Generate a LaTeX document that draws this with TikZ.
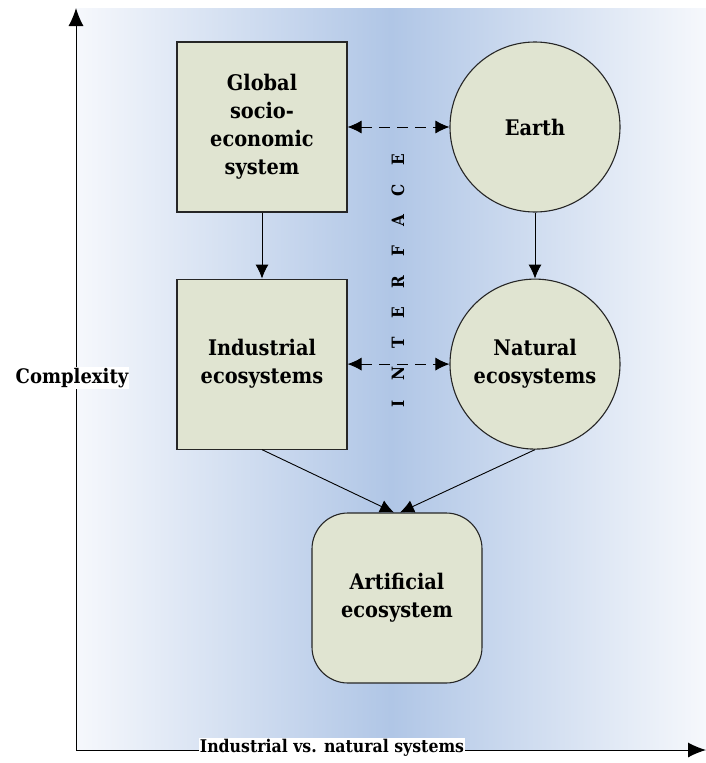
\documentclass[tikz,border=0pt]{standalone}
\usepackage{fontspec}
\setmainfont{DejaVu Serif Condensed}
\usetikzlibrary{arrows.meta, positioning, shapes.geometric}

\definecolor{boxfill}{RGB}{224,228,209}
\definecolor{bandblue}{RGB}{176,198,230}
\definecolor{bandedge}{RGB}{246,248,252}

\begin{document}
\begin{tikzpicture}[
    x=1pt, y=-1pt,
    font=\bfseries\fontsize{21.5}{28}\selectfont,
    node distance=66pt,
    squarebox/.style={rectangle, draw=black!85, line width=1.1pt, fill=boxfill, minimum width=170pt, minimum height=170pt, align=center, inner sep=0pt},
    roundbox/.style={squarebox, rounded corners=36pt},
    roundnode/.style={circle, draw=black!85, line width=1.1pt, fill=boxfill, minimum size=170pt, align=center, inner sep=0pt},
    arrow/.style={-{Latex[length=14pt,width=13pt]}, line width=0.9pt},
    axis/.style={-{Latex[length=18pt,width=15pt]}, line width=1pt},
    link/.style={{Latex[length=14pt,width=13pt]}-{Latex[length=14pt,width=13pt]}, dash pattern=on 11pt off 7pt, line width=0.9pt},
    axislabel/.style={fill=white, inner sep=1pt, font=\bfseries\fontsize{18}{20}\selectfont},
    letter/.style={rotate=90, font=\bfseries\fontsize{17}{17}\selectfont}
]
\useasboundingbox (0,0) rectangle (706,763);

% shaded band behind the diagram
\shade[left color=bandedge, right color=bandedge, middle color=bandblue] (76,8) rectangle (706,750);

% axes
\coordinate (origin) at (76,750);
\coordinate (ytop) at (76,8);
\coordinate (xend) at (706,750);
\draw[axis] (origin) -- (ytop);
\draw[axis] (origin) -- (xend);
\node[axislabel, font=\bfseries\fontsize{20}{22}\selectfont] (complexity) at (72,378) {Complexity};
\node[axislabel, font=\bfseries\fontsize{17.5}{20}\selectfont] (systems) at (332,748) {Industrial vs. natural systems};

% systems
\node[squarebox] (global) at (262,127) {Global\\socio-\\economic\\system};
\node[roundnode] (earth) at (535,127) {Earth};
\node[squarebox, below=of global] (industrial) {Industrial\\ecosystems};
\node[roundnode, below=of earth] (natural) {Natural\\ecosystems};
\node[roundbox] (artificial) at (397,598) {Artificial\\ecosystem};

% interface between the two columns
\foreach \ch [count=\i] in {I,N,T,E,R,F,A,C,E}
  \node[letter] (if\i) at (398,435-\i*30.6) {\ch};

\draw[arrow] (global) -- (industrial);
\draw[arrow] (earth) -- (natural);
\draw[arrow] (industrial.south) -- ([xshift=-3pt]artificial.north);
\draw[arrow] (natural.south) -- ([xshift=3pt]artificial.north);
\draw[link] (global) -- (earth);
\draw[link] (industrial) -- (natural);

\end{tikzpicture}
\end{document}
